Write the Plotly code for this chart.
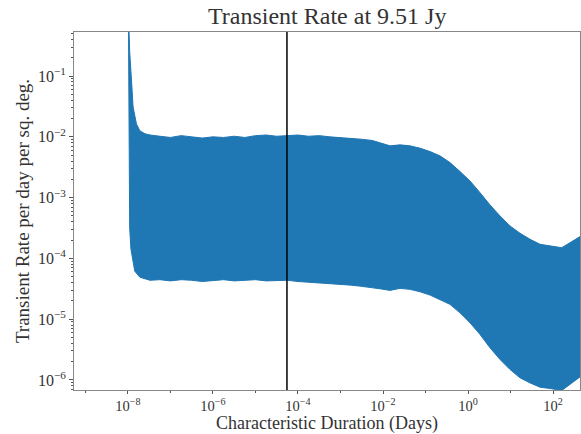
import plotly.graph_objects as go

# Upper envelope of the filled band: (log10 duration, log10 rate)
upper_logx = [-7.99, -7.96, -7.91, -7.88, -7.80, -7.72, -7.60, -7.48, -7.25, -7.0, -6.75, -6.5,
              -6.25, -6.0, -5.75, -5.5, -5.25, -5.0, -4.75, -4.5, -4.25, -4.0, -3.75, -3.5,
              -3.25, -3.0, -2.75, -2.5, -2.25, -2.07, -1.835, -1.60, -1.365, -1.129, -0.894,
              -0.659, -0.424, -0.188, 0.047, 0.282, 0.518, 0.753, 0.988, 1.224, 1.459, 1.694,
              1.929, 2.205, 2.400, 2.659]
upper_logy = [0.05, -0.6, -1.15, -1.51, -1.79, -1.90, -1.95, -1.97, -1.99, -2.01, -1.98, -2.00,
              -2.02, -2.00, -2.01, -1.99, -2.01, -1.98, -1.97, -1.99, -1.98, -1.97, -1.99, -1.98,
              -2.00, -2.01, -2.03, -2.04, -2.06, -2.10, -2.148, -2.132, -2.148, -2.186, -2.242,
              -2.313, -2.423, -2.571, -2.725, -2.918, -3.120, -3.301, -3.466, -3.586, -3.685, -3.768,
              -3.796, -3.824, -3.741, -3.631]

# Lower envelope of the filled band
lower_logx = [-7.99, -7.96, -7.93, -7.84, -7.72, -7.48, -7.25, -7.0, -6.75, -6.5, -6.25, -6.0,
              -5.75, -5.5, -5.25, -5.0, -4.75, -4.5, -4.25, -4.0, -3.75, -3.5, -3.25, -3.0,
              -2.75, -2.5, -2.25, -2.07, -1.835, -1.60, -1.365, -1.129, -0.894, -0.659, -0.424,
              -0.188, 0.047, 0.282, 0.518, 0.753, 0.988, 1.224, 1.459, 1.694, 1.929, 2.205,
              2.400, 2.659]
lower_logy = [0.05, -3.5, -3.85, -4.21, -4.31, -4.36, -4.35, -4.37, -4.35, -4.36, -4.38, -4.36,
              -4.35, -4.37, -4.36, -4.35, -4.37, -4.37, -4.36, -4.38, -4.39, -4.40, -4.42, -4.43,
              -4.44, -4.46, -4.48, -4.50, -4.526, -4.493, -4.509, -4.549, -4.603, -4.674, -4.756,
              -4.895, -5.059, -5.250, -5.471, -5.662, -5.827, -5.965, -6.048, -6.119, -6.140, -6.173,
              -6.074, -5.937]

marker_duration = 5.5e-5

x_ticks = [1e-8, 1e-6, 1e-4, 1e-2, 1e0, 1e2]
x_ticktext = ["10<sup>−8</sup>", "10<sup>−6</sup>", "10<sup>−4</sup>", "10<sup>−2</sup>",
              "10<sup>0</sup>", "10<sup>2</sup>"]
y_ticks = [1e-6, 1e-5, 1e-4, 1e-3, 1e-2, 1e-1]
y_ticktext = ["10<sup>−6</sup>", "10<sup>−5</sup>", "10<sup>−4</sup>", "10<sup>−3</sup>",
              "10<sup>−2</sup>", "10<sup>−1</sup>"]

px = [10 ** v for v in upper_logx] + [10 ** v for v in lower_logx[::-1]]
py = [10 ** v for v in upper_logy] + [10 ** v for v in lower_logy[::-1]]

BLUE = "#1f77b4"
FONT = "Liberation Serif"
TXT = "#333"

fig = go.Figure()
fig.add_trace(go.Scatter(x=px, y=py, mode="lines", fill="toself", fillcolor=BLUE,
                         line=dict(color=BLUE, width=1), hoverinfo="skip"))
fig.add_trace(go.Scatter(x=[marker_duration, marker_duration], y=[1e-7, 10], mode="lines",
                         line=dict(color="black", width=1.5)))

y_minor = [m * 10 ** e for e in range(-7, 0) for m in range(2, 10)]
x_minor = [10 ** e for e in range(-9, 4, 2)]

fig.update_layout(
    width=581, height=434, showlegend=False,
    margin=dict(l=74, r=1, t=32, b=44),
    paper_bgcolor="white", plot_bgcolor="white",
    font=dict(family=FONT, color=TXT, size=15),
    xaxis=dict(type="log", range=[-9.27, 2.635], tickvals=x_ticks, ticktext=x_ticktext,
               ticks="outside", ticklen=3, tickcolor="#555", showgrid=False, zeroline=False,
               showline=True, linecolor="#888", linewidth=1, mirror=True,
               tickfont=dict(family=FONT, size=14.5, color=TXT),
               minor=dict(tickvals=x_minor, ticks="outside", ticklen=2, tickcolor="#555")),
    yaxis=dict(type="log", range=[-6.165, -0.275], tickvals=y_ticks, ticktext=y_ticktext,
               ticks="outside", ticklen=4, tickcolor="#555", showgrid=False, zeroline=False,
               showline=True, linecolor="#888", linewidth=1, mirror=True,
               tickfont=dict(family=FONT, size=16, color=TXT),
               minor=dict(tickvals=y_minor, ticks="outside", ticklen=2, tickcolor="#555"),
               title=dict(text="Transient Rate per day per sq. deg.", standoff=3,
                          font=dict(family=FONT, size=19, color=TXT))),
    annotations=[
        dict(text="Transient Rate at 9.51 Jy", x=0.5, y=1, xref="paper", yref="paper",
             xanchor="center", yanchor="bottom", yshift=1, showarrow=False,
             font=dict(family=FONT, size=24, color=TXT)),
        dict(text="Characteristic Duration (Days)", x=0.5, y=-0.094, xref="paper", yref="paper",
             xanchor="center", yanchor="middle", showarrow=False,
             font=dict(family=FONT, size=18, color=TXT)),
    ],
)

fig.write_html("out.html")
